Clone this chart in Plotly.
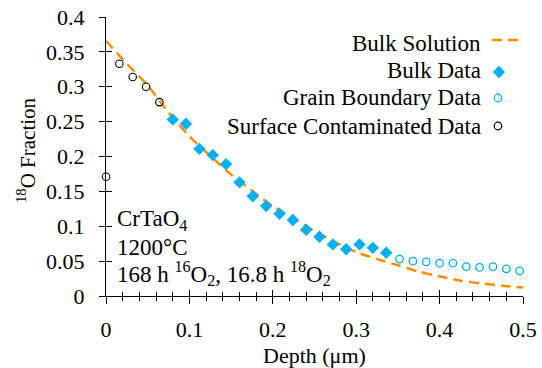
import plotly.graph_objects as go

# ---------------- data ----------------
solution_depth = [0.0, 0.025, 0.05, 0.075, 0.1, 0.125, 0.15, 0.175, 0.2, 0.225, 0.25,
                  0.275, 0.3, 0.325, 0.35, 0.375, 0.4, 0.425, 0.45, 0.475, 0.5]
solution_frac = [0.366, 0.333, 0.302, 0.263, 0.229, 0.201, 0.174, 0.151, 0.129, 0.111, 0.093,
                 0.077, 0.063, 0.053, 0.044, 0.035, 0.028, 0.022, 0.018, 0.0148, 0.012]

bulk_depth = [0.08, 0.096, 0.112, 0.128, 0.144, 0.16, 0.176, 0.192, 0.208, 0.224, 0.24,
              0.256, 0.272, 0.288, 0.304, 0.32, 0.336]
bulk_frac = [0.253, 0.247, 0.211, 0.202, 0.189, 0.163, 0.143, 0.129, 0.118, 0.109, 0.095,
             0.085, 0.074, 0.067, 0.074, 0.069, 0.062]

gb_depth = [0.352, 0.368, 0.384, 0.4, 0.416, 0.432, 0.448, 0.464, 0.48, 0.496]
gb_frac = [0.053, 0.050, 0.049, 0.047, 0.047, 0.042, 0.041, 0.042, 0.039, 0.036]

surf_depth = [0.0, 0.016, 0.032, 0.048, 0.064]
surf_frac = [0.171, 0.333, 0.314, 0.300, 0.278]

y_tickvals = [0, 0.05, 0.1, 0.15, 0.2, 0.25, 0.3, 0.35, 0.4]
y_ticktext = ["0", "0.05", "0.1", "0.15", "0.2", "0.25", "0.3", "0.35", "0.4"]
x_tickvals = [0, 0.1, 0.2, 0.3, 0.4, 0.5]
x_ticktext = ["0", "0.1", "0.2", "0.3", "0.4", "0.5"]

legend_labels = ["Bulk Solution", "Bulk Data", "Grain Boundary Data", "Surface Contaminated Data"]
info_lines = ["CrTaO<sub>4</sub>", "1200°C", "168 h <sup>16</sup>O<sub>2</sub>, 16.8 h <sup>18</sup>O<sub>2</sub>"]

# ---------------- style ----------------
W, H = 542, 368
ML, MR, MT, MB = 106, 19, 17, 72
PW, PH = W - ML - MR, H - MT - MB
FONT = "Liberation Serif, Times New Roman, serif"
ORANGE = "#FF8C00"
BLUE = "#00B0F0"
DASH = "10px,6px"


def px_x(px):
    return (px - ML) / PW


def px_y(py):
    return (H - MB - py) / PH


fig = go.Figure()
fig.add_trace(go.Scatter(x=solution_depth, y=solution_frac, mode="lines",
                         line=dict(color=ORANGE, width=2.5, dash=DASH, shape="spline", smoothing=0.6),
                         showlegend=False, cliponaxis=False))
fig.add_trace(go.Scatter(x=bulk_depth, y=bulk_frac, mode="markers",
                         marker=dict(symbol="diamond", size=9.5, color=BLUE, line=dict(width=0)),
                         showlegend=False, cliponaxis=False))
fig.add_trace(go.Scatter(x=gb_depth, y=gb_frac, mode="markers",
                         marker=dict(symbol="circle-open", size=7.5, color=BLUE, line=dict(width=1.3)),
                         showlegend=False, cliponaxis=False))
fig.add_trace(go.Scatter(x=surf_depth, y=surf_frac, mode="markers",
                         marker=dict(symbol="circle-open", size=7.5, color="black", line=dict(width=1.1)),
                         showlegend=False, cliponaxis=False))
# empty trace for the overlay axes that draw the inner half of the crossing ticks
fig.add_trace(go.Scatter(x=[], y=[], xaxis="x2", yaxis="y2", showlegend=False, hoverinfo="skip"))

tickfont = dict(family=FONT, size=22, color="black")
fig.update_layout(
    width=W, height=H,
    margin=dict(l=ML, r=MR, t=MT, b=MB, pad=0, autoexpand=False),
    paper_bgcolor="white", plot_bgcolor="white",
    showlegend=False,
    xaxis=dict(range=[0, 0.5], showgrid=False, zeroline=False, showline=True, automargin=False,
               linecolor="black", linewidth=1.3,
               tickmode="array", tickvals=x_tickvals, ticktext=x_ticktext,
               ticks="outside", ticklen=7, tickwidth=1.3, tickcolor="black",
               minor=dict(ticks="outside", ticklen=4, tickwidth=1.1, tickcolor="black",
                          tickmode="linear", tick0=0, dtick=0.02, showgrid=False),
               tickfont=tickfont, ticklabelstandoff=6),
    yaxis=dict(range=[0, 0.4], showgrid=False, zeroline=False, showline=True, automargin=False,
               linecolor="black", linewidth=1.3,
               tickmode="array", tickvals=y_tickvals, ticktext=y_ticktext,
               ticks="outside", ticklen=6, tickwidth=1.3, tickcolor="black",
               tickfont=tickfont, ticklabelstandoff=10),
    xaxis2=dict(range=[0, 0.5], overlaying="x", anchor="y", showgrid=False, zeroline=False,
                showline=False, showticklabels=False, automargin=False,
                tickmode="array", tickvals=x_tickvals,
                ticks="inside", ticklen=6, tickwidth=1.3, tickcolor="black",
                minor=dict(ticks="inside", ticklen=4, tickwidth=1.1, tickcolor="black",
                           tickmode="linear", tick0=0, dtick=0.02, showgrid=False)),
    yaxis2=dict(range=[0, 0.4], overlaying="y", anchor="x", side="left", showgrid=False,
                zeroline=False, showline=False, showticklabels=False, automargin=False,
                tickmode="array", tickvals=y_tickvals,
                ticks="inside", ticklen=6, tickwidth=1.3, tickcolor="black"),
)

annfont = dict(family=FONT, size=23, color="black")
# axis titles
fig.add_annotation(text="Depth (μm)", xref="paper", yref="paper", x=0.5, y=px_y(355),
                   xanchor="center", yanchor="middle", showarrow=False,
                   font=dict(family=FONT, size=22, color="black"))
fig.add_annotation(text="<sup>18</sup>O Fraction", xref="paper", yref="paper", x=px_x(27), y=px_y(150),
                   xanchor="center", yanchor="middle", textangle=-90, showarrow=False,
                   font=dict(family=FONT, size=21, color="black"))

# info text
info_y = [220, 247, 273]
for txt, yy in zip(info_lines, info_y):
    fig.add_annotation(text=txt, xref="paper", yref="paper", x=px_x(115), y=px_y(yy),
                       xanchor="left", yanchor="middle", showarrow=False, font=annfont)

# custom legend (text on the left, symbol on the right)
leg_y = [43, 70, 98, 126]
for txt, yy in zip(legend_labels, leg_y):
    fig.add_annotation(text=txt, xref="paper", yref="paper", x=px_x(483), y=px_y(yy),
                       xanchor="right", yanchor="middle", showarrow=False, font=annfont)

# legend symbols
fig.add_shape(type="line", xref="paper", yref="paper", x0=px_x(492), x1=px_x(520),
              y0=px_y(40), y1=px_y(40), line=dict(color=ORANGE, width=2.5, dash=DASH))
cx, cy = px_x(499), px_y(72)
dx, dy = 6.2 / PW, 6.2 / PH
fig.add_shape(type="path", xref="paper", yref="paper",
              path=f"M {cx-dx},{cy} L {cx},{cy+dy} L {cx+dx},{cy} L {cx},{cy-dy} Z",
              fillcolor=BLUE, line=dict(width=0))
for yy, col in [(98, BLUE), (126, "black")]:
    r = 3.8
    fig.add_shape(type="circle", xref="paper", yref="paper",
                  x0=px_x(498 - r), x1=px_x(498 + r), y0=px_y(yy + r), y1=px_y(yy - r),
                  line=dict(color=col, width=1.2), fillcolor="rgba(0,0,0,0)")

fig.write_html("out.html")
